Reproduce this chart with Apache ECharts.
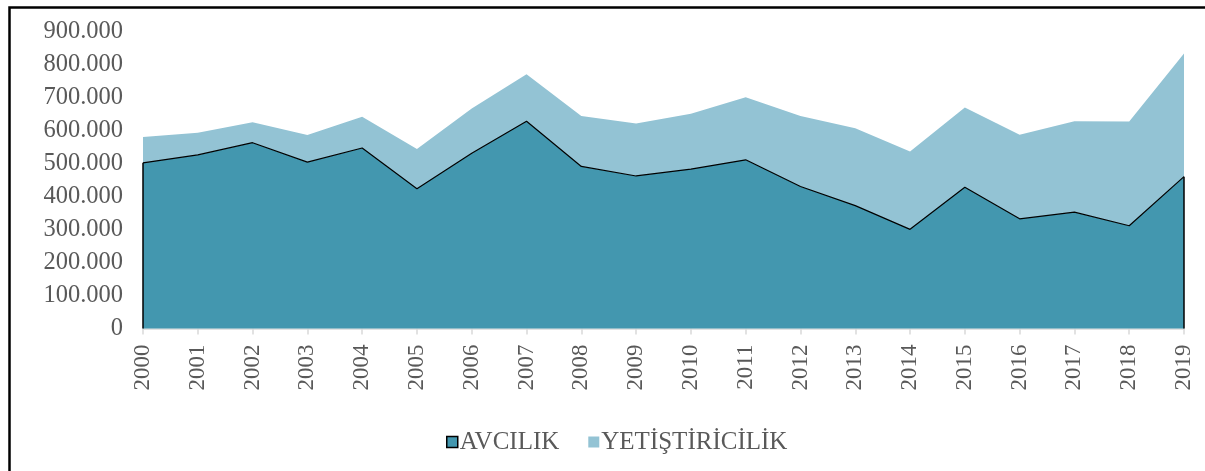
<!DOCTYPE html>
<html>
<head>
<meta charset="utf-8">
<script src="https://cdn.jsdelivr.net/npm/echarts@6/dist/echarts.min.js"></script>
<style>html,body{margin:0;padding:0;background:#fff;}#c{width:1205px;height:471px;}</style>
</head>
<body>
<div id="c"></div>
<script>
const years = ['2000','2001','2002','2003','2004','2005','2006','2007','2008','2009','2010','2011','2012','2013','2014','2015','2016','2017','2018','2019'];
const avcilik = [503000,527000,564000,505000,548000,424000,532000,629000,492000,463000,484000,512000,431000,373000,301000,429000,333000,353000,312000,461000];
const yetistiricilik = [78000,67000,62000,82000,95000,121000,136000,143000,153000,159000,168000,190000,214000,235000,236000,242000,255000,276000,316000,374000];
const yTicks = [0,100000,200000,300000,400000,500000,600000,700000,800000,900000];

const FONT = "'Liberation Serif','Times New Roman',serif";
const DARK = '#4397AF';
const LIGHT = '#93C3D4';
const fmt = v => v === 0 ? '0' : String(v).replace(/\B(?=(\d{3})+(?!\d))/g, '.');

const chart = echarts.init(document.getElementById('c'), null, {renderer:'canvas'});
chart.setOption({
  backgroundColor:'#fff',
  animation:false,
  graphic:[{type:'rect', left:7, top:5, shape:{x:0,y:0,width:1260,height:520}, style:{fill:'none', stroke:'#000', lineWidth:2.5}, z:100}],
  grid:{left:143, right:21, top:32, bottom:142.5, containLabel:false},
  legend:{
    top:423, left:441, itemWidth:11, itemHeight:11, itemGap:29,
    textStyle:{fontFamily:FONT, fontSize:25, lineHeight:28, color:'#595959', padding:[0,0,0,-3]},
    data:[
      {name:'AVCILIK', icon:'rect', itemStyle:{color:DARK, borderColor:'#000', borderWidth:1.5}},
      {name:'YETİŞTİRİCİLİK', icon:'rect', itemStyle:{color:LIGHT, borderWidth:0}}
    ]
  },
  xAxis:{
    type:'category', data:years, boundaryGap:false,
    axisLine:{show:true, lineStyle:{color:'#d9d9d9', width:1.5}},
    axisTick:{show:true, length:6, alignWithLabel:true, lineStyle:{color:'#d9d9d9', width:1.5}},
    axisLabel:{rotate:90, margin:16, fontFamily:FONT, fontSize:23, color:'#595959', interval:0},
    splitLine:{show:false}
  },
  yAxis:{
    type:'value', min:0, max:900000, interval:100000,
    axisLine:{show:false}, axisTick:{show:false}, splitLine:{show:false},
    axisLabel:{margin:20, fontFamily:FONT, fontSize:24.5, color:'#595959', formatter:fmt}
  },
  series:[
    {
      name:'AVCILIK', type:'line', stack:'total', data:avcilik, showSymbol:false, symbol:'none',
      lineStyle:{color:'#000', width:1.2}, itemStyle:{color:DARK},
      areaStyle:{color:DARK, opacity:1}, z:3,
      markLine:{
        silent:true, symbol:'none', label:{show:false},
        lineStyle:{color:'#000', width:1.5, type:'solid'},
        data:[
          [{coord:[years[0],0]},{coord:[years[0],avcilik[0]]}],
          [{coord:[years[years.length-1],0]},{coord:[years[years.length-1],avcilik[avcilik.length-1]]}]
        ]
      }
    },
    {
      name:'YETİŞTİRİCİLİK', type:'line', stack:'total', data:yetistiricilik, showSymbol:false, symbol:'none',
      lineStyle:{width:0, color:LIGHT}, itemStyle:{color:LIGHT},
      areaStyle:{color:LIGHT, opacity:1}, z:2
    }
  ]
});
</script>
</body>
</html>
